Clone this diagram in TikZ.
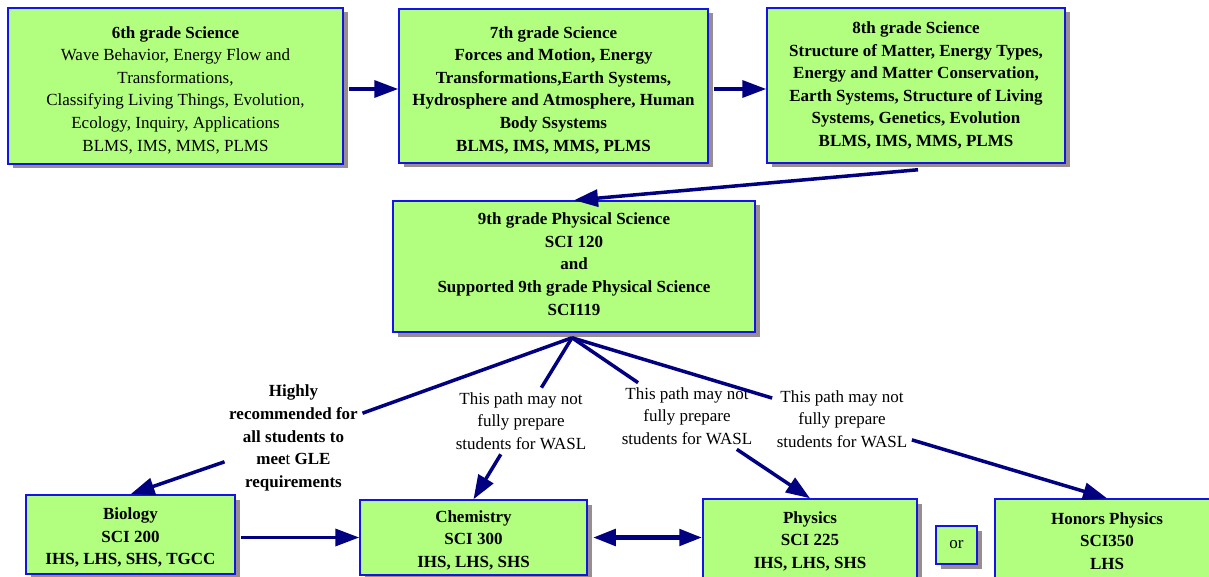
\documentclass[tikz,border=0pt]{standalone}
\usepackage{fontspec}
\setmainfont{Liberation Serif}
\usetikzlibrary{arrows.meta,shadows,calc}
\definecolor{boxgreen}{RGB}{178,255,128}
\definecolor{boxblue}{RGB}{20,20,230}
\definecolor{shadowgray}{RGB}{152,142,142}
\definecolor{navyline}{RGB}{0,0,128}
\begin{document}
\begin{tikzpicture}[x=1pt,y=-1pt,
  txt/.style={font=\fontsize{17}{22.6}\selectfont, align=center},
  bftxt/.style={font=\fontsize{17}{22.6}\selectfont\bfseries, align=center},
  box/.style={draw=boxblue, line width=1.5pt, fill=boxgreen, inner sep=0pt,
    drop shadow={shadow xshift=4.5pt,shadow yshift=-4.5pt,fill=shadowgray,opacity=1}},
  lbl/.style={inner sep=4.5pt},
  conn/.style={draw=navyline, line width=3.5pt},
  arr/.style={conn, -{Triangle[length=24pt,width=17pt]}},
  darr/.style={draw=navyline, line width=5pt, {Triangle[length=23pt,width=16pt]}-{Triangle[length=23pt,width=16pt]}},
]
\useasboundingbox (0,0) rectangle (1209,577);

% top row
\node[box, txt, minimum width=335pt, minimum height=156pt] (b6) at (175.5,86)
  {\rule{0pt}{20pt}\textbf{6th grade Science}\\Wave Behavior, Energy Flow and\\Transformations,\\Classifying Living Things, Evolution,\\Ecology, Inquiry, Applications\\BLMS, IMS, MMS, PLMS};
\node[box, bftxt, minimum width=309pt, minimum height=154pt] (b7) at (553.5,86)
  {\rule{0pt}{20pt}7th grade Science\\Forces and Motion, Energy\\Transformations,Earth Systems,\\Hydrosphere and Atmosphere, Human\\Body Ssystems\\BLMS, IMS, MMS, PLMS};
\node[box, bftxt, minimum width=298pt, minimum height=155pt] (b8) at (916,85.5)
  {8th grade Science\\Structure of Matter, Energy Types,\\Energy and Matter Conservation,\\Earth Systems, Structure of Living\\Systems, Genetics, Evolution\\BLMS, IMS, MMS, PLMS};

% middle
\node[box, bftxt, minimum width=362pt, minimum height=131pt] (b9) at (574,266.5)
  {9th grade Physical Science\\SCI 120\\and\\Supported 9th grade Physical Science\\SCI119\rule[-5pt]{0pt}{5pt}};

% bottom row
\node[box, bftxt, minimum width=209pt, minimum height=79pt] (bio) at (130.5,534.5)
  {\rule{0pt}{18pt}Biology\\SCI 200\\IHS, LHS, SHS, TGCC};
\node[box, bftxt, minimum width=227pt, minimum height=75pt] (chem) at (473.5,537.5)
  {\rule{0pt}{17pt}Chemistry\\SCI 300\\IHS, LHS, SHS};
\node[box, bftxt, minimum width=214pt, minimum height=81pt] (phys) at (810,539.5)
  {\rule{0pt}{15pt}Physics\\SCI 225\\IHS, LHS, SHS};
\node[box, txt, minimum width=41pt, minimum height=38pt] (or) at (956.5,545) {or};
\node[box, bftxt, minimum width=224pt, minimum height=81pt] (hon) at (1107,539.5)
  {\rule{0pt}{15pt}Honors Physics\\SCI350\\LHS};

% labels
\node[lbl, bftxt] (lh) at (293.5,438)
  {Highly\\recommended for\\all students to\\mee{\mdseries t} GLE\\requirements};
\node[lbl, txt] (l1) at (521,421) {This path may not\\fully prepare\\students for WASL};
\node[lbl, txt] (l2) at (687,416) {This path may not\\fully prepare\\students for WASL};
\node[lbl, txt] (l3) at (842,419) {This path may not\\fully prepare\\students for WASL};

% connectors
\draw[arr] ($(b6.east)+(5,3)$) -- ($(b7.west)+(0,3)$);
\draw[arr] ($(b7.east)+(5,3)$) -- ($(b8.west)+(0,3.5)$);
\coordinate (s8) at ($(b8.south)+(2,6)$);
\draw[arr] (s8) -- (b9.north);
\coordinate (fan) at ($(b9.south)+(-2,5)$);
\draw[conn] (fan) -- (lh);
\draw[arr] (lh) -- (bio.north);
\draw[conn] (fan) -- (l1);
\draw[arr] (l1) -- (chem.north);
\draw[conn] (fan) -- (l2);
\draw[arr] (l2) -- (phys.north);
\draw[conn] (fan) -- (l3);
\draw[arr] (l3) -- (hon.north);
\draw[arr] ($(bio.east |- chem.west)+(5,0)$) -- (chem.west);
\draw[darr] ($(chem.east)+(5,0)$) -- (phys.west |- chem.east);
\end{tikzpicture}
\end{document}
